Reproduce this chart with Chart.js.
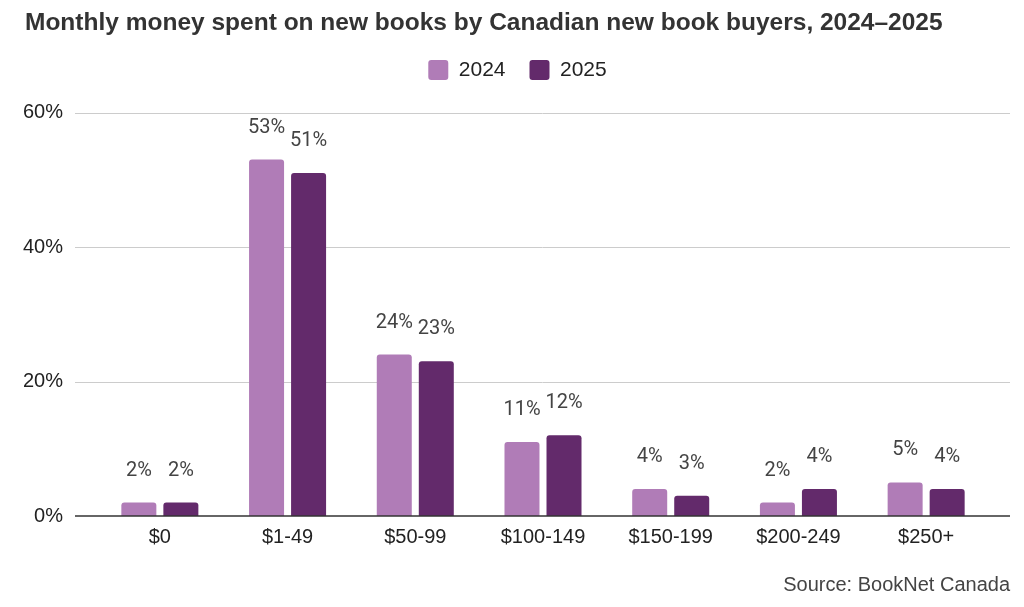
<!DOCTYPE html>
<html>
<head>
<meta charset="utf-8">
<script src="https://cdn.jsdelivr.net/npm/chart.js@4.4.1/dist/chart.umd.min.js"></script>
<style>
  html, body { margin: 0; padding: 0; background: #fff; }
  #wrap { width: 1024px; height: 607px; }
</style>
</head>
<body>
<div id="wrap"><canvas id="spendChart"></canvas></div>
<script>
const categories = ["$0", "$1-49", "$50-99", "$100-149", "$150-199", "$200-249", "$250+"];
const seriesNames = ["2024", "2025"];
const values2024 = [2, 53, 24, 11, 4, 2, 5];
const values2025 = [2, 51, 23, 12, 3, 4, 4];
const yTicks = [0, 20, 40, 60];

// gridlines run a bit past the plot on both sides, like the original
const gridLines = {
    id: "gridLines",
    beforeDatasetsDraw(chart) {
        const { ctx, chartArea, scales } = chart;
        ctx.save();
        ctx.strokeStyle = "#cccccc";
        ctx.lineWidth = 1;
        yTicks.forEach(function (t) {
            if (t === 0) return;
            const y = Math.round(scales.y.getPixelForValue(t)) + 0.5;
            ctx.beginPath();
            ctx.moveTo(chartArea.left - 21, y);
            ctx.lineTo(chartArea.right + 20, y);
            ctx.stroke();
        });
        ctx.restore();
    },
    afterDatasetsDraw(chart) {
        const { ctx, chartArea, scales } = chart;
        const y = scales.y.getPixelForValue(0);
        ctx.save();
        ctx.strokeStyle = "#333333";
        ctx.lineWidth = 1.5;
        ctx.beginPath();
        ctx.moveTo(chartArea.left - 21, y);
        ctx.lineTo(chartArea.right + 20, y);
        ctx.stroke();

        // value labels above bars
        ctx.font = "20px Roboto";
        ctx.fillStyle = "#444444";
        ctx.textAlign = "center";
        ctx.textBaseline = "alphabetic";
        chart.data.datasets.forEach(function (ds, i) {
            chart.getDatasetMeta(i).data.forEach(function (bar, j) {
                ctx.fillText(ds.data[j] + "%", bar.x, bar.y - 27);
            });
        });
        ctx.restore();
    }
};

const layoutTweaks = {
    id: "layoutTweaks",
    beforeInit(chart) {
        const fit = chart.legend.fit;
        chart.legend.fit = function () {
            fit.bind(chart.legend)();
            this.height += 22;
        };
    },
    afterLayout(chart) {
        // give the y labels room so "60%" is not clipped at the title margin
        chart.scales.y.left -= 12;
    }
};

document.addEventListener("DOMContentLoaded", function () {
    const ctx = document.getElementById("spendChart").getContext("2d");

    new Chart(ctx, {
        type: "bar",
        data: {
            labels: categories,
            datasets: [
                {
                    label: seriesNames[0],
                    data: values2024,
                    backgroundColor: "#b07cb7",
                    borderWidth: 0,
                    borderRadius: 3,
                    borderSkipped: "start"
                },
                {
                    label: seriesNames[1],
                    data: values2025,
                    backgroundColor: "#632a6b",
                    borderWidth: 0,
                    borderRadius: 3,
                    borderSkipped: "start"
                }
            ]
        },
        options: {
            responsive: true,
            maintainAspectRatio: false,
            animation: false,
            categoryPercentage: 0.658,
            barPercentage: 0.833,
            layout: {
                padding: { left: 25, right: 14, top: 0, bottom: 0 }
            },
            plugins: {
                title: {
                    display: true,
                    text: "Monthly money spent on new books by Canadian new book buyers, 2024–2025",
                    align: "start",
                    color: "#333333",
                    font: { family: "'Liberation Sans', Arial, sans-serif", size: 24.5, weight: "bold", lineHeight: 1 },
                    padding: { top: 11, bottom: 0 }
                },
                legend: {
                    position: "top",
                    labels: {
                        boxWidth: 20,
                        boxHeight: 20,
                        useBorderRadius: true,
                        borderRadius: 3,
                        padding: 24,
                        color: "#222222",
                        font: { family: "'Liberation Sans', Arial, sans-serif", size: 21 }
                    }
                },
                subtitle: {
                    display: true,
                    position: "bottom",
                    align: "end",
                    text: "Source: BookNet Canada",
                    color: "#444444",
                    font: { family: "'Liberation Sans', Arial, sans-serif", size: 20 },
                    padding: { top: 23, bottom: 10 }
                },
                tooltip: { enabled: false }
            },
            scales: {
                x: {
                    grid: { display: false },
                    border: { display: false },
                    ticks: {
                        color: "#222222",
                        padding: 1,
                        font: { family: "'Liberation Sans', Arial, sans-serif", size: 20 }
                    }
                },
                y: {
                    min: 0,
                    max: 60,
                    grid: { display: false, drawTicks: false },
                    border: { display: false },
                    afterFit: function (scale) { scale.width = 71; },
                    afterBuildTicks: function (scale) {
                        scale.ticks = yTicks.map(function (v) { return { value: v }; });
                    },
                    ticks: {
                        color: "#222222",
                        padding: 33,
                        font: { family: "'Liberation Sans', Arial, sans-serif", size: 20 },
                        callback: function (v) { return v + "%"; }
                    }
                },
                yRight: {
                    position: "right",
                    grid: { display: false },
                    border: { display: false },
                    ticks: { display: false },
                    afterFit: function (scale) { scale.width = 20; }
                }
            }
        },
        plugins: [gridLines, layoutTweaks]
    });
});
</script>
</body>
</html>
